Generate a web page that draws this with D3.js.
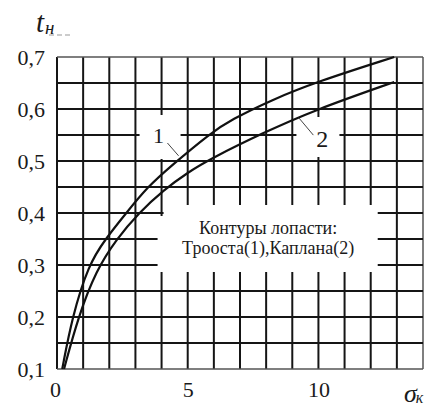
<!DOCTYPE html>
<html>
<head>
<meta charset="utf-8">
<script src="https://cdn.jsdelivr.net/npm/d3@7"></script>
<style>
  html, body { margin: 0; padding: 0; background: #fff; }
  svg { display: block; }
</style>
</head>
<body>
<svg id="chart" width="438" height="407"></svg>
<script>
// Blade contour curves: relative hub thickness t_н versus σ_к
const sigmaTicks = [0, 5, 10];
const tTicks = [0.1, 0.2, 0.3, 0.4, 0.5, 0.6, 0.7];

// Curve 1 — Troost blade contour
const troostSigma = [0.2, 0.58, 1.2, 1.85, 2.65, 3.46, 4.35, 5.88, 6.65, 8.19, 9.92, 12.9];
const troostT     = [0.10, 0.20, 0.30, 0.35, 0.40, 0.45, 0.49, 0.554, 0.579, 0.617, 0.652, 0.70];

// Curve 2 — Kaplan blade contour
const kaplanSigma = [0.27, 0.81, 1.5, 2.28, 3.12, 4.1, 5.0, 5.9, 7.88, 9.85, 12.9];
const kaplanT     = [0.10, 0.20, 0.29, 0.35, 0.40, 0.445, 0.478, 0.505, 0.554, 0.598, 0.652];

const legendLines = ["Контуры лопасти:", "Трооста(1),Каплана(2)"];

const SERIF = "'Liberation Serif', 'DejaVu Serif', 'Times New Roman', serif";
const INK = "#1a1a1a";

const svg = d3.select("#chart");
const plotL = 57, plotR = 423, plotT = 57, plotB = 369;

const x = d3.scaleLinear().domain([0, 14]).range([plotL, plotR]);
const y = d3.scaleLinear().domain([0.1, 0.7]).range([plotB, plotT]);

// grid: one cell per unit of σ and per 0.05 of t
const gx = d3.range(0, 15);
const gy = d3.range(0, 13).map(i => +(0.1 + i * 0.05).toFixed(2));

const grid = svg.append("g");
grid.selectAll("line.v").data(gx).join("line")
  .attr("x1", d => x(d)).attr("x2", d => x(d))
  .attr("y1", plotT).attr("y2", plotB)
  .attr("stroke", d => (d === 14 ? "#555" : "#151515"))
  .attr("stroke-width", d => (d === 14 ? 1.5 : 2));
grid.selectAll("line.h").data(gy).join("line")
  .attr("x1", plotL).attr("x2", plotR)
  .attr("y1", d => y(d)).attr("y2", d => y(d))
  .attr("stroke", d => (d === 0.1 || d === 0.7 ? "#555" : "#151515"))
  .attr("stroke-width", d => (d === 0.1 || d === 0.7 ? 1.5 : 2));

// white areas cut out of the grid for the caption and the curve numbers
const cuts = svg.append("g").attr("fill", "#fff");
cuts.append("rect")
  .attr("x", x(4) + 2).attr("y", y(0.4) - 8)
  .attr("width", x(12) + 7 - (x(4) + 2)).attr("height", y(0.3) + 7 - (y(0.4) - 8));
cuts.append("rect")
  .attr("x", x(4) - 4).attr("y", y(0.4) + 3)
  .attr("width", 7).attr("height", y(0.3) + 7 - (y(0.4) + 3));
cuts.append("rect")
  .attr("x", x(4) - 22).attr("y", y(0.55) - 20)
  .attr("width", 41).attr("height", 44);
cuts.append("rect")
  .attr("x", x(10) - 22).attr("y", y(0.55) - 18)
  .attr("width", 43).attr("height", 40);

// curves
const line = d3.line()
  .x(d => x(d[0])).y(d => y(d[1]))
  .curve(d3.curveBasis);

const curves = [
  d3.zip(troostSigma, troostT),
  d3.zip(kaplanSigma, kaplanT)
];
svg.append("g").selectAll("path").data(curves).join("path")
  .attr("d", line)
  .attr("fill", "none")
  .attr("stroke", "#111")
  .attr("stroke-width", 2.2);

// curve numbers with leader lines
const marks = [
  { text: "1", s: 3.88, t: 0.55, size: 22, lx1: 9, ly1: 8, ls: 4.65, lt: 0.51 },
  { text: "2", s: 10.15, t: 0.544, size: 24, lx1: -9, ly1: -3, ls: 9.25, lt: 0.583 }
];
marks.forEach(m => {
  svg.append("text")
    .attr("x", x(m.s)).attr("y", y(m.t))
    .attr("text-anchor", "middle").attr("dy", "0.35em")
    .style("font-family", SERIF).style("font-size", m.size + "px").style("fill", INK)
    .text(m.text);
  svg.append("line")
    .attr("x1", x(m.s) + m.lx1).attr("y1", y(m.t) + m.ly1)
    .attr("x2", x(m.ls)).attr("y2", y(m.lt))
    .attr("stroke", "#444").attr("stroke-width", 1);
});

// caption
svg.append("g").selectAll("text").data(legendLines).join("text")
  .attr("x", (x(4) + x(12)) / 2 + 2)
  .attr("y", (d, i) => y(0.35) - 5 + i * 20)
  .attr("text-anchor", "middle")
  .style("font-family", SERIF).style("font-size", "18px").style("fill", INK)
  .text(d => d);

// tick labels
const fmt = v => d3.format(".1f")(v).replace(".", ",");
const yAxis = svg.append("g")
  .attr("transform", `translate(${plotL},0)`)
  .call(d3.axisLeft(y).tickValues(tTicks).tickFormat(fmt).tickSize(0).tickPadding(12));
const xAxis = svg.append("g")
  .attr("transform", `translate(0,${plotB})`)
  .call(d3.axisBottom(x).tickValues(sigmaTicks).tickFormat(d3.format("d")).tickSize(0).tickPadding(12));
[yAxis, xAxis].forEach(a => {
  a.select(".domain").remove();
  a.selectAll("text")
    .style("font-family", SERIF)
    .style("font-size", "22px")
    .style("fill", INK);
});
xAxis.selectAll(".tick").filter(d => d === 0).select("text").attr("dx", -2);

// axis titles
const ty = svg.append("text").attr("x", 36).attr("y", 32)
  .style("font-family", SERIF).style("font-style", "italic")
  .style("font-size", "29px").style("fill", INK);
ty.append("tspan").text("t");
ty.append("tspan").style("font-size", "19px").attr("dy", 2).attr("dx", 1).text("н");
svg.append("line")
  .attr("x1", 49).attr("x2", 70).attr("y1", 35).attr("y2", 35)
  .attr("stroke", "#999").attr("stroke-width", 1).attr("stroke-dasharray", "5,3");

const tx = svg.append("text").attr("x", 404).attr("y", 402)
  .style("font-family", SERIF).style("font-style", "italic")
  .style("font-size", "26px").style("fill", INK);
tx.append("tspan").text("σ");
tx.append("tspan").style("font-size", "16px").attr("dy", 1).attr("dx", -1).text("к");
</script>
</body>
</html>
